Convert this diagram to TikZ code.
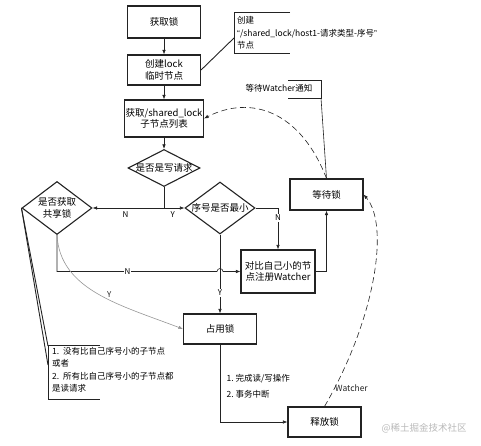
\documentclass[tikz,border=0pt]{standalone}
\usepackage{fontspec}
\setmainfont{Noto Sans CJK SC}
\newfontfamily\latinq{Liberation Sans}
\usepackage{xcolor}
\usepackage{tikz}
\usetikzlibrary{shapes.geometric,arrows.meta,positioning,calc}
\definecolor{lockink}{RGB}{35, 35, 35}
\definecolor{lockgray}{RGB}{150, 150, 150}
\definecolor{lockmark}{RGB}{185, 185, 185}
\newcommand{\boxfont}{\fontsize{9.5}{11.5}\selectfont}
\newcommand{\notefont}{\fontsize{8.5}{12.5}\selectfont}

\begin{document}
\begin{tikzpicture}[x=1pt, y=-1pt, >={Latex[length=4.5pt,width=3.5pt]}]
    \tikzset{
        lockbox/.style={draw=lockink, line width=1.1pt, rectangle, minimum width=73pt, minimum height=31pt, inner xsep=1pt, align=center, font=\boxfont},
        decide/.style={draw=lockink, line width=1.1pt, diamond, inner sep=0pt},
        flow/.style={->, draw=lockink, line width=0.6pt},
        note/.style={draw=lockink, line width=0.9pt},
        callback/.style={->, dash pattern=on 6pt off 3.5pt, lockink, line width=0.6pt},
        yn/.style={font=\fontsize{8}{9}\selectfont, inner sep=1pt}
    }
    \useasboundingbox (0,0) rectangle (481,446);

    \node [lockbox, minimum height=32pt] (acquire) at (164,22) {获取锁};
    \node [lockbox, minimum height=30pt] (create) at (164,70) {创建lock\\临时节点};
    \node [lockbox, minimum height=37pt] (children) at (164,118.5) {获取/shared\_lock\\子节点列表};
    \node [decide, minimum width=72pt, minimum height=37pt, label={[font=\boxfont]center:是否是写请求}] (iswrite) at (164,168) {};
    \node [decide, minimum width=70pt, minimum height=53pt, label={[font=\boxfont, align=center]center:是否获取\\共享锁}] (isshared) at (57,208) {};
    \node [decide, minimum width=70pt, minimum height=52pt, label={[font=\boxfont]center:序号是否最小}] (ismin) at (220,208) {};
    \node [lockbox] (wait) at (326.5,194.5) {等待锁};
    \node [lockbox, minimum width=74pt, minimum height=43pt] (watch) at (278,271.5) {对比自己小的节\\点注册Watcher};
    \node [lockbox, minimum height=30pt] (hold) at (220,329) {占用锁};
    \node [lockbox, minimum height=30pt] (release) at (324.5,422) {释放锁};

    % notes
    \node [anchor=west, align=left, font=\notefont, inner sep=0pt] (createnote) at (237,33) {创建\\{\latinq “}/shared\_lock/host1-请求类型-序号{\latinq ”}\\节点};
    \coordinate (createhook) at (234,38);
    \draw [note] (290,12) -- (234,12) -- (234,53) -- (290,53);
    \node [font=\notefont, inner sep=0pt] (waitnote) at (279,88) {等待Watcher通知};
    \coordinate (waithook) at (321,98);
    \draw [note] (288,80) -- (321,80) -- (321,98) -- (288,98);
    \node [anchor=north west, align=left, font=\notefont, inner sep=0pt] (sharednote) at (52,347) {1.\ \ 没有比自己序号小的子节点\\或者\\2.\ \ 所有比自己序号小的子节点都\\是读请求};
    \coordinate (sharedtop) at (48,346);
    \coordinate (sharedmid) at (48,365);
    \draw [note] (100,345) -- (48,345) -- (48,399) -- (100,399);

    \draw [note] (create.east) -- (createhook);
    \draw [lockink, line width=0.6pt] (waithook) -- (wait.north);
    \draw [note] (isshared.west) -- (sharedtop);
    \draw [note] (isshared.west) -- (sharedmid);

    % main flow
    \draw [flow] (acquire) -- (create);
    \draw [flow] (create) -- (children);
    \draw [flow] (children) -- (iswrite);
    \coordinate (split) at (iswrite.south |- isshared.east);
    \draw [lockink, line width=0.6pt] (iswrite.south) -- (split);
    \draw [flow] (split) -- node[yn, below=2pt, pos=0.54] {N} (isshared.east);
    \draw [flow] (split) -- node[yn, below=2pt, pos=0.43] {Y} (ismin.west);
    \draw [flow] (ismin.east) -| node[yn, fill=white, pos=0.62] {N} (watch.north);
    \draw [flow] (watch.east) -| (wait.south);
    \draw [flow] (ismin.south) -- node[yn, fill=white, pos=0.74] {Y} (hold.north);
    \coordinate (hop) at (ismin.south |- watch.west);
    \draw [flow] (isshared.south) |- node[yn, fill=white, pos=0.72] {N} ($(hop)+(-3,0)$) arc[start angle=180, end angle=360, radius=3] -- (watch.west);
    \draw [->, lockgray, line width=0.6pt] (isshared.south) .. controls (60,290) and (120,305) .. node[yn, pos=0.58, above=1pt, text=lockink] {Y} (hold.west);
    \draw [flow] (hold.south) |- node[pos=0.27, anchor=west, align=left, font=\notefont, xshift=3pt] {1.\ 完成读/写操作\\[4pt]2.\ 事务中断} (release.west);

    % watcher callbacks
    \draw [callback] (wait.north) .. controls (300,110) and (250,95) .. (children.east);
    \draw [callback] (release.north) .. controls (375,320) and (390,225) .. node[pos=0.07, anchor=west, xshift=-3pt, font=\notefont] {Watcher} (wait.east);

    \node [font=\fontsize{9.5}{11}\selectfont, text=lockmark] (watermark) at (424,428) {@稀土掘金技术社区};
\end{tikzpicture}
\end{document}
